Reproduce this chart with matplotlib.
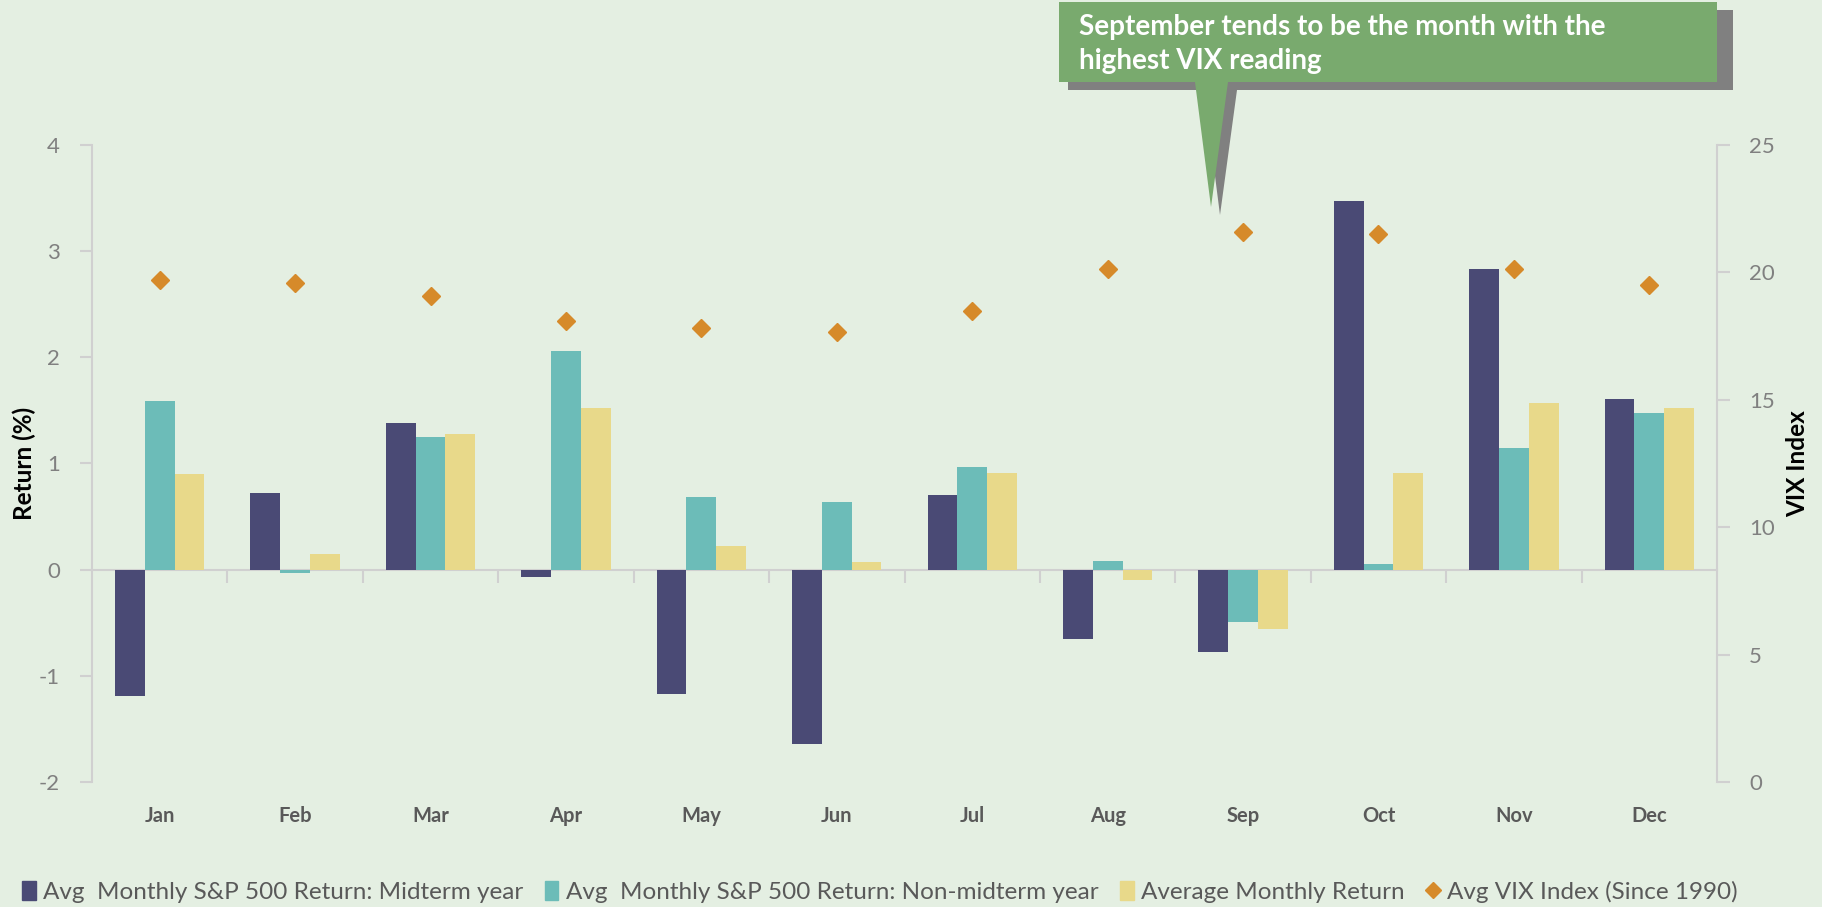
import numpy as np
import matplotlib
matplotlib.use('Agg')
import matplotlib.pyplot as plt
from matplotlib.patches import Polygon, Patch
from matplotlib.lines import Line2D

# Data
months = ['Jan', 'Feb', 'Mar', 'Apr', 'May', 'Jun', 'Jul', 'Aug', 'Sep', 'Oct', 'Nov', 'Dec']
midterm = [-1.19, 0.72, 1.38, -0.07, -1.17, -1.64, 0.70, -0.65, -0.78, 3.47, 2.83, 1.61]
non_midterm = [1.59, -0.03, 1.25, 2.06, 0.68, 0.64, 0.97, 0.08, -0.49, 0.05, 1.15, 1.48]
avg_return = [0.90, 0.15, 1.28, 1.52, 0.22, 0.07, 0.91, -0.10, -0.56, 0.91, 1.57, 1.52]
vix = [19.7, 19.6, 19.07, 18.1, 17.8, 17.65, 18.5, 20.15, 21.6, 21.5, 20.15, 19.5]

legend_labels = ['Avg  Monthly S&P 500 Return: Midterm year',
                 'Avg  Monthly S&P 500 Return: Non-midterm year',
                 'Average Monthly Return',
                 'Avg VIX Index (Since 1990)']
callout_text = 'September tends to be the month with the\nhighest VIX reading'

# Colours
bg = '#E4EFE2'
c_mid = '#4A4A75'
c_non = '#6CBCB8'
c_avg = '#E8D98A'
c_vix = '#D68A2A'
c_axis = '#D0D0D0'
c_tick = '#808080'
c_green = '#79AA6E'
c_shadow = '#808080'

plt.rcParams['font.family'] = ['Lato', 'DejaVu Sans']
plt.rcParams['axes.unicode_minus'] = False

W, H = 1822, 907
fig = plt.figure(figsize=(W / 100, H / 100), dpi=100, facecolor=bg)
ax = fig.add_axes([92 / W, 1 - 782 / H, (1717 - 92) / W, (782 - 145) / H])
ax.set_facecolor(bg)

x = np.arange(len(months))
bw = 0.22
ax.bar(x - bw, midterm, bw, color=c_mid, zorder=2)
ax.bar(x, non_midterm, bw, color=c_non, zorder=2)
ax.bar(x + bw, avg_return, bw, color=c_avg, zorder=2)

ax.set_xlim(-0.5, len(months) - 0.5)
ax.set_ylim(-2, 4)
ax.set_yticks(range(-2, 5))
for s in ['top', 'right', 'bottom']:
    ax.spines[s].set_visible(False)
ax.spines['left'].set_color(c_axis)
ax.spines['left'].set_linewidth(1.5)
ax.tick_params(axis='y', direction='out', length=9, width=1.5, color=c_axis,
               labelcolor=c_tick, labelsize=16, pad=14)
ax.set_xticks(x)
ax.set_xticklabels(months, fontweight='bold', color='#595959', fontsize=14.5)
ax.tick_params(axis='x', length=0, pad=17)
ax.set_ylabel('Return (%)', fontsize=17.5, fontweight='bold', color='black', labelpad=2)

# zero line with category separators
sec = ax.secondary_xaxis(2 / 6)
sec.set_xticks(np.arange(0.5, len(months) - 0.5, 1))
sec.tick_params(axis='x', direction='out', length=9, width=1.5, color=c_axis, labelbottom=False)
sec.spines['bottom'].set_color(c_axis)
sec.spines['bottom'].set_linewidth(1.5)

ax2 = ax.twinx()
ax2.plot(x, vix, 'D', ms=9.2, color=c_vix, zorder=3)
ax2.set_ylim(0, 25)
ax2.set_yticks(range(0, 26, 5))
for s in ['top', 'left', 'bottom']:
    ax2.spines[s].set_visible(False)
ax2.spines['right'].set_color(c_axis)
ax2.spines['right'].set_linewidth(1.5)
ax2.tick_params(axis='y', direction='out', length=9, width=1.5, color=c_axis,
                labelcolor=c_tick, labelsize=16, pad=14)
ax2.set_ylabel('VIX Index', fontsize=17.5, fontweight='bold', color='black', labelpad=8)

# Legend
handles = [Patch(color=c_mid), Patch(color=c_non), Patch(color=c_avg),
           Line2D([], [], marker='D', ls='none', color=c_vix, ms=8)]
fig.legend(handles, legend_labels, loc='center', bbox_to_anchor=(0.483, 1 - 892 / H),
           ncol=4, frameon=False, fontsize=17.5, labelcolor='#595959',
           handlelength=0.55, handleheight=0.85, handletextpad=0.3, columnspacing=0.9)


# Callout box with pointer (pixel coords from top-left)
def fp(px, py):
    return (px / W, 1 - py / H)


shape = [(1059, 2), (1717, 2), (1717, 82), (1228, 82), (1211, 207), (1195, 82), (1059, 82)]
shadow = [(px + 9, py + 8) for px, py in shape]
shadow[1] = (1733, 10)
shadow[2] = (1733, 90)
fig.add_artist(Polygon([fp(*p) for p in shadow], closed=True, transform=fig.transFigure,
                       facecolor=c_shadow, edgecolor='none', zorder=5))
fig.add_artist(Polygon([fp(*p) for p in shape], closed=True, transform=fig.transFigure,
                       facecolor=c_green, edgecolor='none', zorder=6))
fig.text(1079 / W, 1 - 14 / H, callout_text, ha='left', va='top', color='white',
         fontsize=20, fontweight='bold', linespacing=1.4, zorder=7)

fig.savefig('out.png', dpi=100, facecolor=bg)
